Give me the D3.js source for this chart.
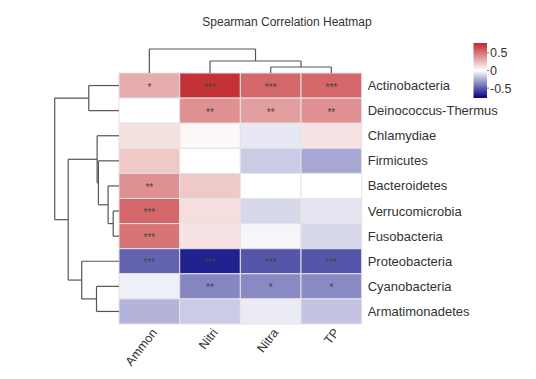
<!DOCTYPE html>
<html>
<head>
<meta charset="utf-8">
<script src="https://cdn.jsdelivr.net/npm/d3@7"></script>
<style>
  body { margin: 0; background: #fff; }
  text { font-family: Arial, "Liberation Sans", sans-serif; fill: #333; }
</style>
</head>
<body>
<div id="chart"></div>
<script>
// data
const columns = ['Ammon', 'Nitri', 'Nitra', 'TP'];
const rows = ['Actinobacteria', 'Deinococcus-Thermus', 'Chlamydiae', 'Firmicutes', 'Bacteroidetes',
  'Verrucomicrobia', 'Fusobacteria', 'Proteobacteria', 'Cyanobacteria', 'Armatimonadetes'];
const values = [
  [0.30, 0.74, 0.55, 0.55],
  [0.00, 0.40, 0.35, 0.40],
  [0.11, 0.03, -0.07, 0.10],
  [0.20, 0.00, -0.16, -0.27],
  [0.40, 0.20, 0.00, 0.00],
  [0.55, 0.12, -0.12, -0.08],
  [0.50, 0.10, -0.03, -0.12],
  [-0.48, -0.68, -0.52, -0.52],
  [-0.05, -0.37, -0.36, -0.36],
  [-0.23, -0.16, -0.06, -0.18]
];
const stars = [
  ['*', '***', '***', '***'],
  ['', '**', '**', '**'],
  ['', '', '', ''],
  ['', '', '', ''],
  ['**', '', '', ''],
  ['***', '', '', ''],
  ['***', '', '', ''],
  ['***', '***', '***', '***'],
  ['', '**', '*', '*'],
  ['', '', '', '']
];
const legendTicks = [0.5, 0, -0.5];

// clustering trees (h = merge height)
const rowTree = { h: 1.0, c: [
  { h: 0.47, c: ['Actinobacteria', 'Deinococcus-Thermus'] },
  { h: 0.79, c: [
    { h: 0.34, c: ['Chlamydiae',
      { h: 0.32, c: ['Firmicutes',
        { h: 0.17, c: ['Bacteroidetes',
          { h: 0.09, c: ['Verrucomicrobia', 'Fusobacteria'] }] }] }] },
    { h: 0.58, c: ['Proteobacteria',
      { h: 0.35, c: ['Cyanobacteria', 'Armatimonadetes'] }] }
  ] }
] };
const colTree = { h: 1.0, c: ['Ammon',
  { h: 0.5, c: ['Nitri', { h: 0.25, c: ['Nitra', 'TP'] }] }] };

const width = 536, height = 379;
const hm = { left: 119, right: 361.7, top: 73, bottom: 324 };

const svg = d3.select('#chart').append('svg')
  .attr('width', width)
  .attr('height', height);

const x = d3.scaleBand().domain(columns).range([hm.left, hm.right]);
const y = d3.scaleBand().domain(rows).range([hm.top, hm.bottom]);
const color = d3.scaleLinear()
  .domain([-0.78, 0, 0.78])
  .range(['#000080', '#ffffff', '#c0282a']);

svg.append('text')
  .attr('x', 287)
  .attr('y', 26)
  .attr('text-anchor', 'middle')
  .style('font-size', '12px')
  .text('Spearman Correlation Heatmap');

// cells
const cells = [];
rows.forEach((r, i) => columns.forEach((c, j) => {
  cells.push({ r, c, v: values[i][j], s: stars[i][j] });
}));

svg.append('g').selectAll('rect')
  .data(cells)
  .enter().append('rect')
  .attr('x', d => x(d.c))
  .attr('y', d => y(d.r))
  .attr('width', x.bandwidth())
  .attr('height', y.bandwidth())
  .attr('fill', d => color(d.v))
  .attr('stroke', '#e4e4e4')
  .attr('stroke-width', 1);

svg.append('g').selectAll('text')
  .data(cells.filter(d => d.s))
  .enter().append('text')
  .attr('x', d => x(d.c) + x.bandwidth() / 2)
  .attr('y', d => y(d.r) + y.bandwidth() / 2 + 5)
  .attr('text-anchor', 'middle')
  .style('font-size', '10px')
  .style('fill', '#444')
  .text(d => d.s);

// row labels
svg.append('g').selectAll('text')
  .data(rows)
  .enter().append('text')
  .attr('x', hm.right + 6)
  .attr('y', d => y(d) + y.bandwidth() / 2 + 4.5)
  .style('font-size', '13px')
  .text(d => d);

// column labels
svg.append('g').selectAll('text')
  .data(columns)
  .enter().append('text')
  .attr('transform', d => 'translate(' + (x(d) + x.bandwidth() / 2 + 5) + ',' + (hm.bottom + 6) + ') rotate(-52)')
  .attr('text-anchor', 'end')
  .attr('dy', '0.35em')
  .style('font-size', '12.5px')
  .text(d => d);

// dendrograms
function drawDendro(tree, band, hScale, vertical) {
  const root = d3.hierarchy(tree, d => typeof d === 'string' ? null : d.c);
  root.eachAfter(n => {
    if (!n.children) {
      n.pos = band(n.data) + band.bandwidth() / 2;
      n.h = 0;
    } else {
      n.pos = (n.children[0].pos + n.children[n.children.length - 1].pos) / 2;
      n.h = n.data.h;
    }
  });
  const segs = [];
  root.each(n => {
    if (!n.children) return;
    const a = n.children[0].pos, b = n.children[n.children.length - 1].pos;
    segs.push([hScale(n.h), a, hScale(n.h), b]);
    n.children.forEach(ch => segs.push([hScale(n.h), ch.pos, hScale(ch.h), ch.pos]));
  });
  svg.append('g').selectAll('line')
    .data(segs)
    .enter().append('line')
    .attr('x1', d => vertical ? d[1] : d[0])
    .attr('y1', d => vertical ? d[0] : d[1])
    .attr('x2', d => vertical ? d[3] : d[2])
    .attr('y2', d => vertical ? d[2] : d[3])
    .attr('stroke', '#555')
    .attr('stroke-width', 1.2);
}

drawDendro(rowTree, y, d3.scaleLinear().domain([0, 1]).range([hm.left, 54.7]), false);
drawDendro(colTree, x, d3.scaleLinear().domain([0, 1]).range([hm.top, 49]), true);

// legend
const lg = { x: 473.5, w: 13.5, top: 43, bottom: 98 };
const ly = d3.scaleLinear().domain([0.78, -0.78]).range([lg.top, lg.bottom]);
const grad = svg.append('defs').append('linearGradient')
  .attr('id', 'lgrad')
  .attr('x1', 0).attr('y1', 0).attr('x2', 0).attr('y2', 1);
grad.selectAll('stop')
  .data(d3.range(0, 1.0001, 0.1))
  .enter().append('stop')
  .attr('offset', d => d)
  .attr('stop-color', d => color(ly.invert(lg.top + d * (lg.bottom - lg.top))));

svg.append('rect')
  .attr('x', lg.x)
  .attr('y', lg.top)
  .attr('width', lg.w)
  .attr('height', lg.bottom - lg.top)
  .attr('fill', 'url(#lgrad)');

const lt = svg.append('g').selectAll('g')
  .data(legendTicks)
  .enter().append('g');
lt.append('line')
  .attr('x1', lg.x + lg.w)
  .attr('x2', lg.x + lg.w + 2)
  .attr('y1', d => ly(d))
  .attr('y2', d => ly(d))
  .attr('stroke', '#777');
lt.append('text')
  .attr('x', lg.x + lg.w + 3)
  .attr('y', d => ly(d) + 4.5)
  .style('font-size', '12.5px')
  .text(d => d);
</script>
</body>
</html>
